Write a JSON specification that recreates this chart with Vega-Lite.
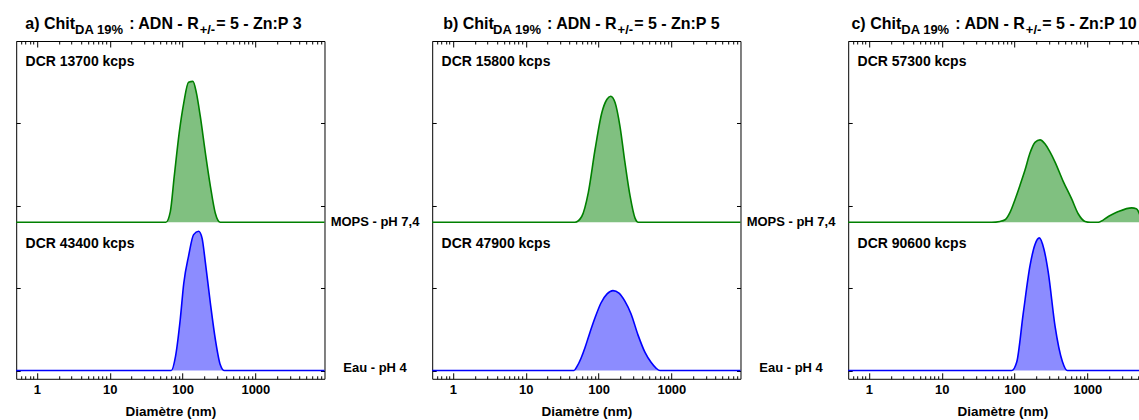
{
"$schema": "https://vega.github.io/schema/vega-lite/v6.json",
"background": "white",
"padding": {"left": 12.2, "top": 15, "right": 0, "bottom": 0},
"bounds": "flush",
"spacing": 107,
"config": {"view": {"stroke": "black", "strokeWidth": 1}, "font": "Liberation Sans"},
"datasets": {
"curves": [
{"p":"a","s":"MOPS","d":0.52,"y":1.8},{"p":"a","s":"MOPS","d":59,"y":1.8},{"p":"a","s":"MOPS","d":68,"y":1.93},{"p":"a","s":"MOPS","d":77,"y":2.36},{"p":"a","s":"MOPS","d":90,"y":2.885},{"p":"a","s":"MOPS","d":104,"y":3.25},{"p":"a","s":"MOPS","d":121,"y":3.5},{"p":"a","s":"MOPS","d":139,"y":3.51},{"p":"a","s":"MOPS","d":155,"y":3.37},{"p":"a","s":"MOPS","d":175,"y":3.09},{"p":"a","s":"MOPS","d":206,"y":2.64},{"p":"a","s":"MOPS","d":241,"y":2.24},{"p":"a","s":"MOPS","d":282,"y":1.91},{"p":"a","s":"MOPS","d":330,"y":1.8},{"p":"a","s":"MOPS","d":8900,"y":1.8},
{"p":"a","s":"Eau","d":0.52,"y":0},{"p":"a","s":"Eau","d":70,"y":0},{"p":"a","s":"Eau","d":80,"y":0.17},{"p":"a","s":"Eau","d":93,"y":0.62},{"p":"a","s":"Eau","d":104,"y":1.06},{"p":"a","s":"Eau","d":121,"y":1.39},{"p":"a","s":"Eau","d":142,"y":1.65},{"p":"a","s":"Eau","d":166,"y":1.69},{"p":"a","s":"Eau","d":185,"y":1.61},{"p":"a","s":"Eau","d":206,"y":1.31},{"p":"a","s":"Eau","d":241,"y":0.82},{"p":"a","s":"Eau","d":282,"y":0.38},{"p":"a","s":"Eau","d":330,"y":0.07},{"p":"a","s":"Eau","d":375,"y":0},{"p":"a","s":"Eau","d":8900,"y":0},
{"p":"b","s":"MOPS","d":0.52,"y":1.8},{"p":"b","s":"MOPS","d":47.5,"y":1.8},{"p":"b","s":"MOPS","d":58.8,"y":1.87},{"p":"b","s":"MOPS","d":72.4,"y":2.16},{"p":"b","s":"MOPS","d":89.5,"y":2.68},{"p":"b","s":"MOPS","d":111,"y":3.13},{"p":"b","s":"MOPS","d":130,"y":3.29},{"p":"b","s":"MOPS","d":147,"y":3.33},{"p":"b","s":"MOPS","d":169,"y":3.25},{"p":"b","s":"MOPS","d":197,"y":2.965},{"p":"b","s":"MOPS","d":231,"y":2.52},{"p":"b","s":"MOPS","d":271,"y":2.12},{"p":"b","s":"MOPS","d":317,"y":1.85},{"p":"b","s":"MOPS","d":352,"y":1.8},{"p":"b","s":"MOPS","d":8900,"y":1.8},
{"p":"b","s":"Eau","d":0.52,"y":0},{"p":"b","s":"Eau","d":46.1,"y":0},{"p":"b","s":"Eau","d":50.7,"y":0.05},{"p":"b","s":"Eau","d":57.5,"y":0.15},{"p":"b","s":"Eau","d":65.3,"y":0.28},{"p":"b","s":"Eau","d":74.1,"y":0.43},{"p":"b","s":"Eau","d":89.5,"y":0.64},{"p":"b","s":"Eau","d":108,"y":0.82},{"p":"b","s":"Eau","d":131,"y":0.93},{"p":"b","s":"Eau","d":158,"y":0.97},{"p":"b","s":"Eau","d":191,"y":0.94},{"p":"b","s":"Eau","d":231,"y":0.84},{"p":"b","s":"Eau","d":279,"y":0.69},{"p":"b","s":"Eau","d":349,"y":0.43},{"p":"b","s":"Eau","d":435,"y":0.22},{"p":"b","s":"Eau","d":526,"y":0.1},{"p":"b","s":"Eau","d":616,"y":0.03},{"p":"b","s":"Eau","d":700,"y":0},{"p":"b","s":"Eau","d":8900,"y":0},
{"p":"c","s":"MOPS","d":0.52,"y":1.8},{"p":"c","s":"MOPS","d":48.6,"y":1.8},{"p":"c","s":"MOPS","d":63.2,"y":1.81},{"p":"c","s":"MOPS","d":74.1,"y":1.83},{"p":"c","s":"MOPS","d":86.7,"y":1.92},{"p":"c","s":"MOPS","d":102,"y":2.08},{"p":"c","s":"MOPS","d":119,"y":2.25},{"p":"c","s":"MOPS","d":139,"y":2.43},{"p":"c","s":"MOPS","d":163,"y":2.64},{"p":"c","s":"MOPS","d":191,"y":2.77},{"p":"c","s":"MOPS","d":224,"y":2.8},{"p":"c","s":"MOPS","d":263,"y":2.75},{"p":"c","s":"MOPS","d":308,"y":2.65},{"p":"c","s":"MOPS","d":360,"y":2.53},{"p":"c","s":"MOPS","d":464,"y":2.3},{"p":"c","s":"MOPS","d":611,"y":2.08},{"p":"c","s":"MOPS","d":752,"y":1.9},{"p":"c","s":"MOPS","d":929,"y":1.81},{"p":"c","s":"MOPS","d":1099,"y":1.8},{"p":"c","s":"MOPS","d":1416,"y":1.8},{"p":"c","s":"MOPS","d":1944,"y":1.87},{"p":"c","s":"MOPS","d":2666,"y":1.93},{"p":"c","s":"MOPS","d":4074,"y":1.975},{"p":"c","s":"MOPS","d":4700,"y":1.965},{"p":"c","s":"MOPS","d":5200,"y":1.9},{"p":"c","s":"MOPS","d":5600,"y":1.8},{"p":"c","s":"MOPS","d":8900,"y":1.8},
{"p":"c","s":"Eau","d":0.52,"y":0},{"p":"c","s":"Eau","d":91.6,"y":0},{"p":"c","s":"Eau","d":107,"y":0.1},{"p":"c","s":"Eau","d":132,"y":0.7},{"p":"c","s":"Eau","d":163,"y":1.27},{"p":"c","s":"Eau","d":191,"y":1.53},{"p":"c","s":"Eau","d":219,"y":1.61},{"p":"c","s":"Eau","d":254,"y":1.47},{"p":"c","s":"Eau","d":291,"y":1.19},{"p":"c","s":"Eau","d":360,"y":0.54},{"p":"c","s":"Eau","d":454,"y":0.11},{"p":"c","s":"Eau","d":531,"y":0},{"p":"c","s":"Eau","d":8900,"y":0}
],
"texts": [
{"p":"a","r":"tmain","t":"a) Chit","d":0.693,"y":4.147},{"p":"a","r":"tsub","t":"DA 19%","d":3.348,"y":4.086},{"p":"a","r":"tmain","t":": ADN - R","d":18.48,"y":4.147},{"p":"a","r":"tsub","t":"+/-","d":171.8,"y":4.086},{"p":"a","r":"tmain","t":"= 5 - Zn:P 3","d":289.4,"y":4.147},
{"p":"a","r":"dcr","t":"DCR 13700 kcps","d":0.7,"y":3.693},{"p":"a","r":"dcr","t":"DCR 43400 kcps","d":0.7,"y":1.489},
{"p":"a","r":"side","t":"MOPS - pH 7,4","d":44000,"y":1.8},{"p":"a","r":"side","t":"Eau - pH 4","d":44000,"y":0.03},
{"p":"b","r":"tmain","t":"b) Chit","d":0.738,"y":4.147},{"p":"b","r":"tsub","t":"DA 19%","d":3.566,"y":4.086},{"p":"b","r":"tmain","t":": ADN - R","d":19.68,"y":4.147},{"p":"b","r":"tsub","t":"+/-","d":182.9,"y":4.086},{"p":"b","r":"tmain","t":"= 5 - Zn:P 5","d":308.3,"y":4.147},
{"p":"b","r":"dcr","t":"DCR 15800 kcps","d":0.7,"y":3.693},{"p":"b","r":"dcr","t":"DCR 47900 kcps","d":0.7,"y":1.489},
{"p":"b","r":"side","t":"MOPS - pH 7,4","d":44000,"y":1.8},{"p":"b","r":"side","t":"Eau - pH 4","d":44000,"y":0.03},
{"p":"c","r":"tmain","t":"c) Chit","d":0.577,"y":4.147},{"p":"c","r":"tsub","t":"DA 19%","d":2.787,"y":4.086},{"p":"c","r":"tmain","t":": ADN - R","d":15.38,"y":4.147},{"p":"c","r":"tsub","t":"+/-","d":143.0,"y":4.086},{"p":"c","r":"tmain","t":"= 5 - Zn:P 10","d":240.9,"y":4.147},
{"p":"c","r":"dcr","t":"DCR 57300 kcps","d":0.7,"y":3.693},{"p":"c","r":"dcr","t":"DCR 90600 kcps","d":0.7,"y":1.489}
]
},
"hconcat": [
{
"width": 308.3, "height": 337.8,
"resolve": {"axis": {"x": "independent", "y": "independent"}},
"layer": [
{"data": {"name": "curves"}, "transform": [{"filter": "datum.p == 'a' && datum.s == 'MOPS'"}],
 "mark": {"type": "area", "fill": "#80c080", "interpolate": "monotone"},
 "encoding": {
  "x": {"field": "d", "type": "quantitative", "scale": {"type": "log", "domain": [0.52, 8900], "nice": false},
   "axis": {"orient": "bottom", "values": [0.6,0.7,0.8,0.9,1,2,3,4,5,6,7,8,9,10,20,30,40,50,60,70,80,90,100,200,300,400,500,600,700,800,900,1000,2000,3000,4000,5000,6000,7000,8000],
    "labelExpr": "(datum.value==1||datum.value==10||datum.value==100||datum.value==1000)?format(datum.value,'d'):''",
    "tickSize": {"condition": {"test": "datum.value==1||datum.value==10||datum.value==100||datum.value==1000", "value": -6}, "value": -3},
    "tickColor": "black", "domain": false, "grid": false, "labelFont": "Liberation Sans", "labelFontSize": 13, "labelFontWeight": "bold", "labelColor": "black", "labelPadding": 11, "labelOverlap": false, "labelFlush": false,
    "title": "Diamètre (nm)", "titleFont": "Liberation Sans", "titleFontSize": 13.5, "titleFontWeight": "bold", "titleColor": "black", "titlePadding": 5}},
  "y": {"field": "y", "type": "quantitative", "scale": {"domain": [-0.1, 4], "nice": false, "zero": false},
   "axis": {"orient": "left", "values": [0,1,2,3,4], "labels": false, "title": null, "tickSize": -4, "tickColor": "black", "domain": false, "grid": false}},
  "y2": {"datum": 1.8}
 }},
{"data": {"name": "curves"}, "transform": [{"filter": "datum.p == 'a' && datum.s == 'MOPS'"}],
 "mark": {"type": "line", "color": "#008000", "strokeWidth": 1.6, "interpolate": "monotone"},
 "encoding": {
  "x": {"field": "d", "type": "quantitative", "scale": {"type": "log", "domain": [0.52, 8900], "nice": false},
   "axis": {"orient": "top", "values": [0.6,0.7,0.8,0.9,1,2,3,4,5,6,7,8,9,10,20,30,40,50,60,70,80,90,100,200,300,400,500,600,700,800,900,1000,2000,3000,4000,5000,6000,7000,8000],
    "labels": false, "title": null,
    "tickSize": {"condition": {"test": "datum.value==1||datum.value==10||datum.value==100||datum.value==1000", "value": -6}, "value": -3},
    "tickColor": "black", "domain": false, "grid": false}},
  "y": {"field": "y", "type": "quantitative", "scale": {"domain": [-0.1, 4], "nice": false, "zero": false},
   "axis": {"orient": "right", "values": [0,1,2,3,4], "labels": false, "title": null, "tickSize": -4, "tickColor": "black", "domain": false, "grid": false}}
 }},
{"data": {"name": "curves"}, "transform": [{"filter": "datum.p == 'a' && datum.s == 'Eau'"}],
 "mark": {"type": "area", "fill": "#8c8cff", "interpolate": "monotone"},
 "encoding": {
  "x": {"field": "d", "type": "quantitative", "axis": null},
  "y": {"field": "y", "type": "quantitative", "axis": null},
  "y2": {"datum": 0}
 }},
{"data": {"name": "curves"}, "transform": [{"filter": "datum.p == 'a' && datum.s == 'Eau'"}],
 "mark": {"type": "line", "color": "#0000ff", "strokeWidth": 1.6, "interpolate": "monotone"},
 "encoding": {
  "x": {"field": "d", "type": "quantitative", "axis": null},
  "y": {"field": "y", "type": "quantitative", "axis": null}
 }},
{"data": {"name": "texts"}, "transform": [{"filter": "datum.p == 'a' && datum.r == 'tmain'"}],
 "mark": {"type": "text", "font": "Liberation Sans", "fontSize": 16, "fontWeight": "bold", "align": "left", "baseline": "alphabetic", "color": "black"},
 "encoding": {"x": {"field": "d", "type": "quantitative", "axis": null}, "y": {"field": "y", "type": "quantitative", "axis": null}, "text": {"field": "t"}}},
{"data": {"name": "texts"}, "transform": [{"filter": "datum.p == 'a' && datum.r == 'tsub'"}],
 "mark": {"type": "text", "font": "Liberation Sans", "fontSize": 13, "fontWeight": "bold", "align": "left", "baseline": "alphabetic", "color": "black"},
 "encoding": {"x": {"field": "d", "type": "quantitative", "axis": null}, "y": {"field": "y", "type": "quantitative", "axis": null}, "text": {"field": "t"}}},
{"data": {"name": "texts"}, "transform": [{"filter": "datum.p == 'a' && datum.r == 'dcr'"}],
 "mark": {"type": "text", "font": "Liberation Sans", "fontSize": 14, "fontWeight": "bold", "align": "left", "baseline": "alphabetic", "color": "black"},
 "encoding": {"x": {"field": "d", "type": "quantitative", "axis": null}, "y": {"field": "y", "type": "quantitative", "axis": null}, "text": {"field": "t"}}},
{"data": {"name": "texts"}, "transform": [{"filter": "datum.p == 'a' && datum.r == 'side'"}],
 "mark": {"type": "text", "font": "Liberation Sans", "fontSize": 13, "fontWeight": "bold", "align": "center", "baseline": "middle", "color": "black"},
 "encoding": {"x": {"field": "d", "type": "quantitative", "axis": null}, "y": {"field": "y", "type": "quantitative", "axis": null}, "text": {"field": "t"}}}
]
},
{
"width": 308.3, "height": 337.8,
"resolve": {"axis": {"x": "independent", "y": "independent"}},
"layer": [
{"data": {"name": "curves"}, "transform": [{"filter": "datum.p == 'b' && datum.s == 'MOPS'"}],
 "mark": {"type": "area", "fill": "#80c080", "interpolate": "monotone"},
 "encoding": {
  "x": {"field": "d", "type": "quantitative", "scale": {"type": "log", "domain": [0.52, 8900], "nice": false},
   "axis": {"orient": "bottom", "values": [0.6,0.7,0.8,0.9,1,2,3,4,5,6,7,8,9,10,20,30,40,50,60,70,80,90,100,200,300,400,500,600,700,800,900,1000,2000,3000,4000,5000,6000,7000,8000],
    "labelExpr": "(datum.value==1||datum.value==10||datum.value==100||datum.value==1000)?format(datum.value,'d'):''",
    "tickSize": {"condition": {"test": "datum.value==1||datum.value==10||datum.value==100||datum.value==1000", "value": -6}, "value": -3},
    "tickColor": "black", "domain": false, "grid": false, "labelFont": "Liberation Sans", "labelFontSize": 13, "labelFontWeight": "bold", "labelColor": "black", "labelPadding": 11, "labelOverlap": false, "labelFlush": false,
    "title": "Diamètre (nm)", "titleFont": "Liberation Sans", "titleFontSize": 13.5, "titleFontWeight": "bold", "titleColor": "black", "titlePadding": 5}},
  "y": {"field": "y", "type": "quantitative", "scale": {"domain": [-0.1, 4], "nice": false, "zero": false},
   "axis": {"orient": "left", "values": [0,1,2,3,4], "labels": false, "title": null, "tickSize": -4, "tickColor": "black", "domain": false, "grid": false}},
  "y2": {"datum": 1.8}
 }},
{"data": {"name": "curves"}, "transform": [{"filter": "datum.p == 'b' && datum.s == 'MOPS'"}],
 "mark": {"type": "line", "color": "#008000", "strokeWidth": 1.6, "interpolate": "monotone"},
 "encoding": {
  "x": {"field": "d", "type": "quantitative", "scale": {"type": "log", "domain": [0.52, 8900], "nice": false},
   "axis": {"orient": "top", "values": [0.6,0.7,0.8,0.9,1,2,3,4,5,6,7,8,9,10,20,30,40,50,60,70,80,90,100,200,300,400,500,600,700,800,900,1000,2000,3000,4000,5000,6000,7000,8000],
    "labels": false, "title": null,
    "tickSize": {"condition": {"test": "datum.value==1||datum.value==10||datum.value==100||datum.value==1000", "value": -6}, "value": -3},
    "tickColor": "black", "domain": false, "grid": false}},
  "y": {"field": "y", "type": "quantitative", "scale": {"domain": [-0.1, 4], "nice": false, "zero": false},
   "axis": {"orient": "right", "values": [0,1,2,3,4], "labels": false, "title": null, "tickSize": -4, "tickColor": "black", "domain": false, "grid": false}}
 }},
{"data": {"name": "curves"}, "transform": [{"filter": "datum.p == 'b' && datum.s == 'Eau'"}],
 "mark": {"type": "area", "fill": "#8c8cff", "interpolate": "monotone"},
 "encoding": {
  "x": {"field": "d", "type": "quantitative", "axis": null},
  "y": {"field": "y", "type": "quantitative", "axis": null},
  "y2": {"datum": 0}
 }},
{"data": {"name": "curves"}, "transform": [{"filter": "datum.p == 'b' && datum.s == 'Eau'"}],
 "mark": {"type": "line", "color": "#0000ff", "strokeWidth": 1.6, "interpolate": "monotone"},
 "encoding": {
  "x": {"field": "d", "type": "quantitative", "axis": null},
  "y": {"field": "y", "type": "quantitative", "axis": null}
 }},
{"data": {"name": "texts"}, "transform": [{"filter": "datum.p == 'b' && datum.r == 'tmain'"}],
 "mark": {"type": "text", "font": "Liberation Sans", "fontSize": 16, "fontWeight": "bold", "align": "left", "baseline": "alphabetic", "color": "black"},
 "encoding": {"x": {"field": "d", "type": "quantitative", "axis": null}, "y": {"field": "y", "type": "quantitative", "axis": null}, "text": {"field": "t"}}},
{"data": {"name": "texts"}, "transform": [{"filter": "datum.p == 'b' && datum.r == 'tsub'"}],
 "mark": {"type": "text", "font": "Liberation Sans", "fontSize": 13, "fontWeight": "bold", "align": "left", "baseline": "alphabetic", "color": "black"},
 "encoding": {"x": {"field": "d", "type": "quantitative", "axis": null}, "y": {"field": "y", "type": "quantitative", "axis": null}, "text": {"field": "t"}}},
{"data": {"name": "texts"}, "transform": [{"filter": "datum.p == 'b' && datum.r == 'dcr'"}],
 "mark": {"type": "text", "font": "Liberation Sans", "fontSize": 14, "fontWeight": "bold", "align": "left", "baseline": "alphabetic", "color": "black"},
 "encoding": {"x": {"field": "d", "type": "quantitative", "axis": null}, "y": {"field": "y", "type": "quantitative", "axis": null}, "text": {"field": "t"}}},
{"data": {"name": "texts"}, "transform": [{"filter": "datum.p == 'b' && datum.r == 'side'"}],
 "mark": {"type": "text", "font": "Liberation Sans", "fontSize": 13, "fontWeight": "bold", "align": "center", "baseline": "middle", "color": "black"},
 "encoding": {"x": {"field": "d", "type": "quantitative", "axis": null}, "y": {"field": "y", "type": "quantitative", "axis": null}, "text": {"field": "t"}}}
]
},
{
"width": 308.3, "height": 337.8,
"resolve": {"axis": {"x": "independent", "y": "independent"}},
"layer": [
{"data": {"name": "curves"}, "transform": [{"filter": "datum.p == 'c' && datum.s == 'MOPS'"}],
 "mark": {"type": "area", "fill": "#80c080", "interpolate": "monotone"},
 "encoding": {
  "x": {"field": "d", "type": "quantitative", "scale": {"type": "log", "domain": [0.52, 8900], "nice": false},
   "axis": {"orient": "bottom", "values": [0.6,0.7,0.8,0.9,1,2,3,4,5,6,7,8,9,10,20,30,40,50,60,70,80,90,100,200,300,400,500,600,700,800,900,1000,2000,3000,4000,5000,6000,7000,8000],
    "labelExpr": "(datum.value==1||datum.value==10||datum.value==100||datum.value==1000)?format(datum.value,'d'):''",
    "tickSize": {"condition": {"test": "datum.value==1||datum.value==10||datum.value==100||datum.value==1000", "value": -6}, "value": -3},
    "tickColor": "black", "domain": false, "grid": false, "labelFont": "Liberation Sans", "labelFontSize": 13, "labelFontWeight": "bold", "labelColor": "black", "labelPadding": 11, "labelOverlap": false, "labelFlush": false,
    "title": "Diamètre (nm)", "titleFont": "Liberation Sans", "titleFontSize": 13.5, "titleFontWeight": "bold", "titleColor": "black", "titlePadding": 5}},
  "y": {"field": "y", "type": "quantitative", "scale": {"domain": [-0.1, 4], "nice": false, "zero": false},
   "axis": {"orient": "left", "values": [0,1,2,3,4], "labels": false, "title": null, "tickSize": -4, "tickColor": "black", "domain": false, "grid": false}},
  "y2": {"datum": 1.8}
 }},
{"data": {"name": "curves"}, "transform": [{"filter": "datum.p == 'c' && datum.s == 'MOPS'"}],
 "mark": {"type": "line", "color": "#008000", "strokeWidth": 1.6, "interpolate": "monotone"},
 "encoding": {
  "x": {"field": "d", "type": "quantitative", "scale": {"type": "log", "domain": [0.52, 8900], "nice": false},
   "axis": {"orient": "top", "values": [0.6,0.7,0.8,0.9,1,2,3,4,5,6,7,8,9,10,20,30,40,50,60,70,80,90,100,200,300,400,500,600,700,800,900,1000,2000,3000,4000,5000,6000,7000,8000],
    "labels": false, "title": null,
    "tickSize": {"condition": {"test": "datum.value==1||datum.value==10||datum.value==100||datum.value==1000", "value": -6}, "value": -3},
    "tickColor": "black", "domain": false, "grid": false}},
  "y": {"field": "y", "type": "quantitative", "scale": {"domain": [-0.1, 4], "nice": false, "zero": false},
   "axis": {"orient": "right", "values": [0,1,2,3,4], "labels": false, "title": null, "tickSize": -4, "tickColor": "black", "domain": false, "grid": false}}
 }},
{"data": {"name": "curves"}, "transform": [{"filter": "datum.p == 'c' && datum.s == 'Eau'"}],
 "mark": {"type": "area", "fill": "#8c8cff", "interpolate": "monotone"},
 "encoding": {
  "x": {"field": "d", "type": "quantitative", "axis": null},
  "y": {"field": "y", "type": "quantitative", "axis": null},
  "y2": {"datum": 0}
 }},
{"data": {"name": "curves"}, "transform": [{"filter": "datum.p == 'c' && datum.s == 'Eau'"}],
 "mark": {"type": "line", "color": "#0000ff", "strokeWidth": 1.6, "interpolate": "monotone"},
 "encoding": {
  "x": {"field": "d", "type": "quantitative", "axis": null},
  "y": {"field": "y", "type": "quantitative", "axis": null}
 }},
{"data": {"name": "texts"}, "transform": [{"filter": "datum.p == 'c' && datum.r == 'tmain'"}],
 "mark": {"type": "text", "font": "Liberation Sans", "fontSize": 16, "fontWeight": "bold", "align": "left", "baseline": "alphabetic", "color": "black"},
 "encoding": {"x": {"field": "d", "type": "quantitative", "axis": null}, "y": {"field": "y", "type": "quantitative", "axis": null}, "text": {"field": "t"}}},
{"data": {"name": "texts"}, "transform": [{"filter": "datum.p == 'c' && datum.r == 'tsub'"}],
 "mark": {"type": "text", "font": "Liberation Sans", "fontSize": 13, "fontWeight": "bold", "align": "left", "baseline": "alphabetic", "color": "black"},
 "encoding": {"x": {"field": "d", "type": "quantitative", "axis": null}, "y": {"field": "y", "type": "quantitative", "axis": null}, "text": {"field": "t"}}},
{"data": {"name": "texts"}, "transform": [{"filter": "datum.p == 'c' && datum.r == 'dcr'"}],
 "mark": {"type": "text", "font": "Liberation Sans", "fontSize": 14, "fontWeight": "bold", "align": "left", "baseline": "alphabetic", "color": "black"},
 "encoding": {"x": {"field": "d", "type": "quantitative", "axis": null}, "y": {"field": "y", "type": "quantitative", "axis": null}, "text": {"field": "t"}}}
]
}
]
}
